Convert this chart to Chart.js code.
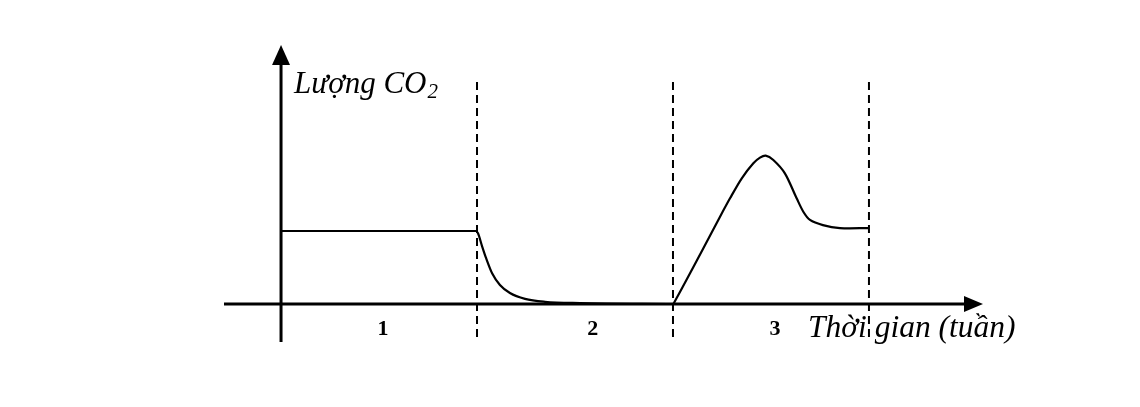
<!DOCTYPE html>
<html>
<head>
<meta charset="utf-8">
<script src="https://cdn.jsdelivr.net/npm/chart.js@4"></script>
<style>
  body { margin: 0; background: #fff; }
  #wrap { width: 1140px; height: 407px; }
</style>
</head>
<body>
<div id="wrap"><canvas id="co2Chart" width="1140" height="407"></canvas></div>
<script>
// Curve (x in weeks, y in arbitrary CO2 units)
// Periods 1-2: flat level, then decay to near zero
const fallX = [0, 0.995, 1.005, 1.026, 1.046, 1.077, 1.117, 1.168, 1.245, 1.347, 1.526, 2.002];
const fallY = [1.0, 1.0, 0.97, 0.79, 0.63, 0.42, 0.26, 0.15, 0.07, 0.03, 0.012, 0.0];
// Period 3: rise, peak, settle
const riseX = [2.002, 2.087, 2.155, 2.24, 2.291, 2.351, 2.41, 2.444, 2.473, 2.512, 2.571, 2.631, 2.665, 2.699, 2.765, 2.852, 3.0];
const riseY = [0.0, 0.42, 0.763, 1.196, 1.448, 1.722, 1.927, 2.004, 2.032, 1.973, 1.79, 1.448, 1.264, 1.151, 1.08, 1.04, 1.04];

// Period boundaries and labels
const boundaries = [1, 2, 3];
const periodLabels = ['1', '2', '3'];
const periodLabelX = [0.52, 1.59, 2.52];

const yTitle = 'Lượng CO';
const yTitleSub = '2';
const xTitle = 'Thời gian (tuần)';

const toPoints = (xs, ys) => xs.map((x, i) => ({ x: x, y: ys[i] }));

// Axes, arrows, dashed lines and labels
const sketchPlugin = {
    id: 'sketch',
    beforeDatasetsDraw(chart) {
        const c = chart.ctx;
        const xs = chart.scales.x, ys = chart.scales.y;
        const px = v => xs.getPixelForValue(v);
        const py = v => ys.getPixelForValue(v);
        c.save();
        c.strokeStyle = '#000';
        c.fillStyle = '#000';

        // dashed period lines
        c.lineWidth = 2;
        c.setLineDash([8, 5]);
        boundaries.forEach(b => {
            c.beginPath();
            c.moveTo(px(b), py(3.04));
            c.lineTo(px(b), py(-0.52));
            c.stroke();
        });
        c.setLineDash([]);

        // y axis
        const x0 = px(0), y0 = py(0);
        c.lineWidth = 3;
        c.beginPath();
        c.moveTo(x0, py(-0.52));
        c.lineTo(x0, 60);
        c.stroke();
        c.beginPath();
        c.moveTo(x0, 45);
        c.lineTo(x0 - 9, 65);
        c.lineTo(x0 + 9, 65);
        c.closePath();
        c.fill();

        // x axis
        c.beginPath();
        c.moveTo(px(-0.291), y0);
        c.lineTo(968, y0);
        c.stroke();
        c.beginPath();
        c.moveTo(983, y0);
        c.lineTo(964, y0 - 8);
        c.lineTo(964, y0 + 8);
        c.closePath();
        c.fill();
        c.restore();
    },
    afterDraw(chart) {
        const c = chart.ctx;
        const xs = chart.scales.x;
        c.save();
        c.fillStyle = '#000';
        c.textBaseline = 'alphabetic';

        c.font = 'italic 31px "Liberation Serif", "Times New Roman", serif';
        c.textAlign = 'left';
        c.fillText(yTitle, 294, 93);
        const w = c.measureText(yTitle).width;
        c.font = 'italic 21px "Liberation Serif", "Times New Roman", serif';
        c.fillText(yTitleSub, 294 + w + 1, 98);

        c.font = 'italic 31.5px "Liberation Serif", "Times New Roman", serif';
        c.fillText(xTitle, 808, 337);

        c.font = 'bold 22px "Liberation Serif", "Times New Roman", serif';
        c.textAlign = 'center';
        periodLabels.forEach((t, i) => {
            c.fillText(t, xs.getPixelForValue(periodLabelX[i]), 335);
        });
        c.restore();
    }
};

const lineStyle = {
    borderColor: '#000',
    borderWidth: 2.2,
    pointRadius: 0,
    fill: false
};

const ctx = document.getElementById('co2Chart').getContext('2d');
const co2Chart = new Chart(ctx, {
    type: 'line',
    data: {
        datasets: [
            Object.assign({ data: toPoints(fallX, fallY), cubicInterpolationMode: 'monotone' }, lineStyle),
            Object.assign({ data: toPoints(riseX, riseY), tension: 0.3 }, lineStyle)
        ]
    },
    options: {
        responsive: false,
        animation: false,
        layout: { padding: 0, autoPadding: false },
        plugins: {
            legend: { display: false },
            tooltip: { enabled: false }
        },
        scales: {
            x: { type: 'linear', min: -1.434, max: 4.383, display: false },
            y: { min: -1.411, max: 4.164, display: false }
        }
    },
    plugins: [sketchPlugin]
});
</script>
</body>
</html>
